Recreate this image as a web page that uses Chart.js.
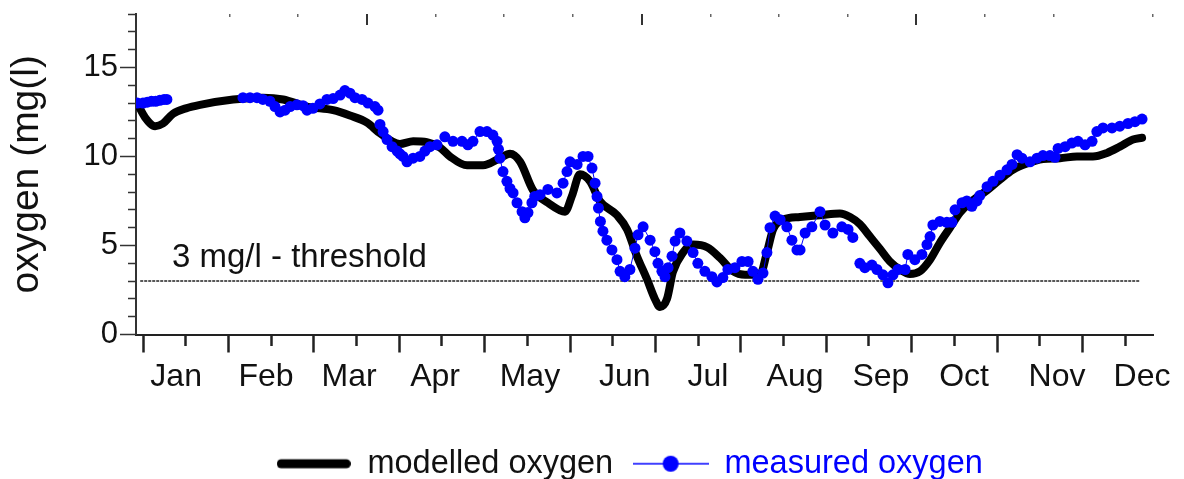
<!DOCTYPE html>
<html>
<head>
<meta charset="utf-8">
<script src="https://cdn.jsdelivr.net/npm/chart.js@4.4.1/dist/chart.umd.min.js"></script>
<style>
  html, body { margin: 0; padding: 0; background: #fff; }
  #wrap { width: 1184px; height: 479px; position: relative; }
</style>
</head>
<body>
<div id="wrap"><canvas id="oxygenChart"></canvas></div>
<script>
// ---- data (x in day of year, y in mg/l) ----
const monthNames = ['Jan', 'Feb', 'Mar', 'Apr', 'May', 'Jun', 'Jul', 'Aug', 'Sep', 'Oct', 'Nov', 'Dec'];
const monthLabelDay = [11.8, 43.8, 73.4, 104.0, 137.8, 171.6, 201.2, 232.2, 262.8, 292.4, 325.5, 355.8];

const modelledDay = [-2.1, 0.7, 4.3, 7.1, 10.7, 15.3, 20.3, 32.1, 42.7, 49.9, 58.4, 67.7, 73.7, 79.8, 84.4,
  91.5, 96.2, 101.1, 105.8, 109.3, 115.4, 121.1, 127.1, 130.7, 134.3, 138.9, 144.2, 150.3, 152.8, 155.6,
  159.2, 162.7, 168.8, 172.4, 175.9, 179.5, 182.3, 184.1, 186.6, 188.7, 192.3, 195.9, 200.9, 205.5, 210.1,
  214.4, 219.7, 222.2, 224.4, 227.9, 234.0, 241.1, 248.2, 251.8, 255.3, 258.9, 262.5, 266.0, 269.6, 273.1,
  276.7, 280.3, 283.8, 287.4, 291.0, 294.5, 300.6, 305.2, 309.8, 314.8, 320.5, 326.6, 332.6, 338.3, 343.3,
  347.9, 352.6, 355.8];
const modelledO2 = [13.0, 12.2, 11.7, 11.85, 12.4, 12.7, 12.9, 13.2, 13.3, 13.2, 12.8, 12.6, 12.3, 11.9, 11.3,
  10.7, 10.85, 10.8, 10.5, 10.0, 9.5, 9.5, 9.9, 10.15, 9.7, 8.1, 7.4, 6.9, 7.8, 9.0,
  8.6, 7.5, 6.7, 5.9, 4.4, 3.1, 2.0, 1.55, 2.0, 3.5, 4.6, 5.05, 4.9, 4.3, 3.55,
  3.35, 3.35, 4.6, 5.9, 6.45, 6.6, 6.7, 6.8, 6.6, 6.2, 5.5, 4.8, 4.1, 3.65, 3.4,
  3.55, 4.2, 5.15, 6.0, 6.85, 7.4, 8.1, 8.7, 9.25, 9.6, 9.85, 9.9, 10.0, 10.0, 10.2,
  10.55, 10.95, 11.05];

// null values break the measured series where no samples were taken
const measuredDay = [-2, 0, 1.5, 3, 4.5, 6, 7.5, 8.5,
  20,
  35.6, 38.1, 40.6, 42.7, 45.2, 47.0, 48.8, 50.6, 52.4, 54.8, 57.0, 58.4, 60.5, 63.0, 65.5, 67.7, 70.2, 71.9,
  73.7, 75.5, 78.0, 80.1, 82.6, 83.7,
  84.0,
  84.4, 85.5, 86.9, 88.7, 90.5, 91.5, 92.6, 94.0, 96.2, 98.6, 100.4, 102.2, 104.7, 107.5, 110.4, 113.6, 115.7,
  117.5, 120.0, 122.5, 124.6, 126.1, 126.6, 127.1, 128.2, 129.6, 130.7, 131.8, 133.2, 135.0, 136.0, 137.1,
  138.5, 139.5, 141.4, 144.2, 147.4, 149.6, 151.0, 152.1, 154.6, 156.7, 158.5, 159.9, 161.0, 161.7, 162.2,
  162.9, 163.8, 165.2, 167.0, 168.8, 169.9, 171.6, 173.4, 175.2, 176.3, 178.1, 180.6, 182.3, 183.4, 184.8,
  185.9, 187.0, 188.4, 189.5, 191.2, 193.7, 195.9, 197.6, 200.1, 202.6, 204.4, 206.5, 208.3, 210.8, 213.3,
  215.5, 217.2, 219.0, 220.8, 222.2, 223.3, 225.1, 226.9, 229.3, 231.1, 232.9, 234.0, 235.8, 238.2, 241.1,
  242.9, 245.7, 248.9, 251.1, 252.8,
  254.0,
  255.3, 257.1, 259.6, 261.4, 263.5, 265.3, 267.1, 268.9, 271.4, 272.4, 274.9, 277.4, 279.2, 280.3, 281.3,
  283.8, 286.3, 288.1, 289.2, 291.7, 293.4, 295.2, 297.0, 298.0, 300.6, 302.7, 305.2, 307.7, 309.5, 311.3,
  313.0, 315.9, 318.4, 320.5, 323.0, 324.8, 325.9, 328.4, 330.8, 333.0, 335.5, 338.0, 339.7, 341.9, 345.1,
  347.9, 350.8, 353.3, 355.8];
const measuredO2 = [13.0, 13.0, 13.05, 13.1, 13.1, 13.15, 13.2, 13.2,
  null,
  13.3, 13.3, 13.3, 13.2, 13.1, 12.8, 12.5, 12.6, 12.8, 12.9, 12.85, 12.6, 12.7, 12.95, 13.2, 13.25, 13.45, 13.7,
  13.55, 13.3, 13.2, 13.0, 12.8, 12.6,
  null,
  11.8, 11.4, 10.95, 10.55, 10.3, 10.15, 10.0, 9.7, 9.9, 10.0, 10.3, 10.55, 10.65, 11.1, 10.85, 10.85, 10.65,
  10.85, 11.4, 11.4, 11.2, 10.85, 10.4, 9.9, 9.15, 8.6, 8.2, 7.95, 7.4, 6.9, 6.55, 6.85,
  7.4, 7.75, 7.85, 8.15, 7.95, 8.5, 9.15, 9.7, 9.55, 10.0, 10.0, 9.35, 8.5, 7.75, 7.1,
  6.35, 5.8, 5.3, 4.75, 4.2, 3.55, 3.25, 3.65, 4.85, 5.6, 6.05, 5.3, 4.65, 4.0, 3.55,
  3.25, 3.75, 4.4, 5.25, 5.7, 5.25, 4.6, 4.0, 3.55, 3.25, 2.95, 3.2, 3.65, 3.75, 4.1,
  4.1, 3.55, 3.1, 3.45, 4.6, 6.0, 6.65, 6.45, 6.05, 5.3, 4.75, 4.75, 5.7, 6.05, 6.9,
  6.15, 5.7, 6.05, 5.9, 5.45,
  null,
  4.0, 3.75, 3.9, 3.65, 3.35, 2.9, 3.35, 3.65, 3.65, 4.5, 4.2, 4.5, 5.05, 5.5, 6.15,
  6.35, 6.3, 6.3, 7.0, 7.4, 7.5, 7.2, 7.5, 7.8, 8.3, 8.6, 8.95, 9.25, 9.55, 10.1,
  9.9, 9.7, 9.9, 10.05, 10.05, 9.95, 10.45, 10.55, 10.75, 10.85, 10.65, 10.85, 11.4, 11.6, 11.6,
  11.7, 11.85, 11.95, 12.1];

const thresholdValue = 3;
const thresholdSpan = [-1, 355];
const thresholdText = '3 mg/l - threshold';
const thresholdTextAt = [10.3, 3.8];

// ---- styling ----
const FONT = '"Liberation Sans", Arial, Helvetica, sans-serif';
const BLUE = '#0000ff';
const INK = '#111111';
Chart.defaults.font.family = FONT;
Chart.defaults.color = INK;

const DAYS_PER_HALF_MONTH = 365 / 24;
const LEGEND_SHIFT_X = -15;

function legendIcon(w, h, lineW, color, dotR) {
  const c = document.createElement('canvas');
  c.width = w; c.height = h;
  const g = c.getContext('2d');
  g.strokeStyle = color;
  g.lineWidth = lineW;
  g.lineCap = dotR ? 'butt' : 'round';
  g.beginPath();
  g.moveTo(dotR ? 0 : lineW / 2, h / 2);
  g.lineTo(dotR ? w : w - lineW / 2, h / 2);
  g.stroke();
  if (dotR) {
    g.fillStyle = color;
    g.beginPath();
    g.arc(w / 2, h / 2, dotR, 0, Math.PI * 2);
    g.fill();
  }
  return c;
}
const modelledIcon = legendIcon(74, 12, 9, '#000000', 0);
const measuredIcon = legendIcon(76, 18, 1.5, BLUE, 8);

// threshold caption, placed in data coordinates
const thresholdLabel = {
  id: 'thresholdLabel',
  afterDatasetsDraw(chart) {
    const { ctx, scales } = chart;
    ctx.save();
    ctx.font = '33px ' + FONT;
    ctx.fillStyle = INK;
    ctx.textAlign = 'left';
    ctx.textBaseline = 'alphabetic';
    ctx.fillText(thresholdText,
      scales.x.getPixelForValue(thresholdTextAt[0]),
      scales.y.getPixelForValue(thresholdTextAt[1]));
    ctx.restore();
  }
};

// nudge the legend block a little left of the plot-area centre
const legendNudge = {
  id: 'legendNudge',
  afterLayout(chart) {
    if (chart.legend) {
      chart.legend.left += LEGEND_SHIFT_X;
      chart.legend.right += LEGEND_SHIFT_X;
    }
  }
};

new Chart(document.getElementById('oxygenChart'), {
  type: 'line',
  data: {
    datasets: [
      {
        label: 'measured oxygen',
        data: measuredDay.map((d, i) => ({ x: d, y: measuredO2[i] })),
        borderColor: BLUE,
        backgroundColor: BLUE,
        borderWidth: 1,
        pointRadius: 5.5,
        pointBorderWidth: 0,
        pointBackgroundColor: BLUE,
        spanGaps: false,
        tension: 0,
        order: 0
      },
      {
        label: 'modelled oxygen',
        data: modelledDay.map((d, i) => ({ x: d, y: modelledO2[i] })),
        borderColor: '#000000',
        borderWidth: 8,
        borderCapStyle: 'round',
        borderJoinStyle: 'round',
        pointRadius: 0,
        cubicInterpolationMode: 'monotone',
        order: 1
      },
      {
        label: 'threshold',
        data: thresholdSpan.map(d => ({ x: d, y: thresholdValue })),
        borderColor: '#222222',
        borderWidth: 1.5,
        borderDash: [3, 1],
        pointRadius: 0,
        order: 2
      }
    ]
  },
  options: {
    responsive: true,
    maintainAspectRatio: false,
    animation: false,
    devicePixelRatio: 1,
    events: [],
    layout: { padding: { top: 14, right: 31, bottom: -11, left: 0 } },
    plugins: {
      tooltip: { enabled: false },
      legend: {
        position: 'bottom',
        fullSize: false,
        labels: {
          usePointStyle: true,
          pointStyleWidth: 75,
          padding: 20,
          font: { size: 32.5 },
          generateLabels: () => [
            { text: 'modelled oxygen', pointStyle: modelledIcon, fontColor: INK, datasetIndex: 1, hidden: false, lineWidth: 0 },
            { text: 'measured oxygen', pointStyle: measuredIcon, fontColor: BLUE, datasetIndex: 0, hidden: false, lineWidth: 0 }
          ]
        }
      }
    },
    scales: {
      x: {
        type: 'linear',
        position: 'bottom',
        min: -2.5,
        max: 359.7,
        afterBuildTicks: (scale) => {
          const ticks = [];
          for (let k = 0; k < 24; k++) {
            ticks.push({ value: k * DAYS_PER_HALF_MONTH, kind: k % 2 === 0 ? 'month' : 'mid' });
          }
          monthLabelDay.forEach((d, i) => ticks.push({ value: d, kind: 'label', text: monthNames[i] }));
          ticks.sort((a, b) => a.value - b.value);
          scale.ticks = ticks;
        },
        afterFit: (scale) => {
          scale.height = 93;
          scale.paddingLeft = 0;
          scale.paddingRight = 0;
        },
        border: { display: true, color: '#222222', width: 2 },
        grid: {
          drawOnChartArea: false,
          drawTicks: true,
          tickLength: 18,
          tickWidth: 2.5,
          tickColor: (c) => (c.tick && c.tick.kind === 'label') ? 'rgba(0,0,0,0)' : '#222222',
          tickBorderDash: (c) => (c.tick && c.tick.kind === 'mid') ? [10, 100] : []
        },
        ticks: {
          autoSkip: false,
          maxRotation: 0,
          minRotation: 0,
          padding: 5,
          color: INK,
          font: { size: 32 },
          callback: (v, i, ts) => ts[i].text || ''
        }
      },
      x2: {
        type: 'linear',
        position: 'top',
        min: -0.359,
        max: 14.442,
        border: { display: false, dash: (c) => (c.tick && c.tick.value % 4 === 3) ? [11, 2000] : [3, 2000] },
        grid: {
          drawOnChartArea: true,
          drawTicks: false,
          color: (c) => (c.tick && c.tick.value % 4 === 3) ? '#333333' : '#666666',
          lineWidth: (c) => (c.tick && c.tick.value % 4 === 3) ? 2 : 1.5
        },
        ticks: { display: false, stepSize: 1 }
      },
      y: {
        type: 'linear',
        position: 'left',
        min: 0,
        max: 18,
        afterFit: (scale) => {
          scale.width = 136;
          scale.paddingTop = 0;
          scale.paddingBottom = 0;
        },
        border: { display: true, color: '#333333', width: 2 },
        grid: {
          drawOnChartArea: false,
          drawTicks: true,
          tickLength: 16,
          tickWidth: 1.5,
          tickColor: '#333333',
          tickBorderDash: (c) => (c.tick && c.tick.value % 5 !== 0) ? [0, 8, 8, 100] : []
        },
        ticks: {
          stepSize: 1,
          autoSkip: false,
          padding: 2,
          color: INK,
          font: { size: 31 },
          callback: (v) => (v % 5 === 0 ? String(v) : '')
        },
        title: {
          display: true,
          text: 'oxygen (mg(l)',
          color: INK,
          font: { size: 39 },
          padding: { top: 4, bottom: 0 }
        }
      }
    }
  },
  plugins: [thresholdLabel, legendNudge]
});
</script>
</body>
</html>
